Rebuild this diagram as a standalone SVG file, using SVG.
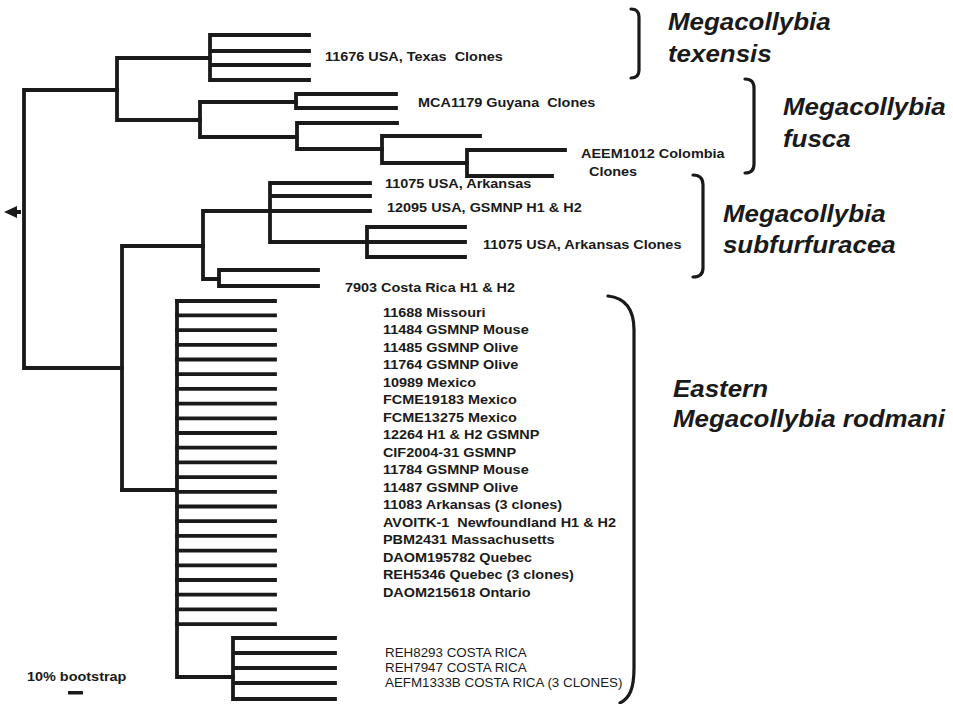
<svg xmlns="http://www.w3.org/2000/svg" width="953" height="704" viewBox="0 0 953 704">
<style>
.br{stroke:#1a1a1a;stroke-width:3.8;fill:none;stroke-linecap:square}
.bk{stroke:#1a1a1a;stroke-width:3.2;fill:none;stroke-linecap:round}
text{white-space:pre}
.lb{font-family:"Liberation Sans",Arial,sans-serif;font-weight:bold;font-size:13.5px;fill:#1a1a1a}
.sm{font-family:"Liberation Sans",Arial,sans-serif;font-weight:normal;font-size:12.5px;fill:#1a1a1a}
.sp{font-family:"Liberation Sans",Arial,sans-serif;font-weight:bold;font-style:italic;font-size:24px;fill:#1a1a1a}
</style>
<rect width="953" height="704" fill="#ffffff"/>
<g id="connectors">
<path class="br" d="M24,90V368M24,90H117M24,368H122"/>
<path class="br" d="M117,58V120M117,58H210M117,120H200"/>
<path class="br" d="M210,35V80M210,35H309M210,51H309M210,65H309M210,80H309"/>
<path class="br" d="M200,102V137M200,102H296M200,137H297"/>
<path class="br" d="M296,94V108M296,94H396M296,108H396"/>
<path class="br" d="M297,123V149M297,123H397M297,149H382"/>
<path class="br" d="M382,136V163M382,136H480M382,163H467"/>
<path class="br" d="M467,150V176M467,150H565M467,176H552"/>
<path class="br" d="M122,246V490M122,246H203"/>
<path class="br" d="M203,211V279M203,211H370M203,279H219"/>
<path class="br" d="M270,183V242M270,183H370M270,196H370M270,242H367"/>
<path class="br" d="M367,227V257M367,227H465M367,242H465M367,257H465"/>
<path class="br" d="M219,270V286M219,270H318M219,286H318"/>
<path class="br" d="M122,490H177M177,301V677M177,677H233"/>
<path class="br" d="M177,301H275M177,315.4H275M177,330.1H275M177,344.8H275M177,359.5H275M177,374.2H275M177,388.9H275M177,403.6H275M177,418.3H275M177,433H275M177,447.7H275M177,462.4H275M177,477.1H275M177,491.8H275M177,506.5H275M177,521.2H275M177,535.9H275M177,550.6H275M177,565.3H275M177,580H275M177,594.7H275M177,609.4H275M177,624.1H275"/>
<path class="br" d="M233,638V699M233,638H335M233,653H335M233,668H335M233,683H335M233,699H335"/>
<polygon points="4,212 17,206 17,210 21,210 21,214 17,214 17,218" fill="#1a1a1a"/>
<rect x="68" y="691" width="15" height="3.5" fill="#1a1a1a"/>
<path class="bk" d="M631,9Q639,9 639,17L639,70Q639,78 631,78"/>
<path class="bk" d="M745,79Q754,79 754,88L754,164Q754,173 745,173"/>
<path class="bk" d="M693,175Q703,175 703,185L703,268Q703,277 693,277"/>
<path class="bk" d="M608,296C626,298 634,310 634,330L634,668C634,688 630,698 620,703"/>
</g>
<g id="labels" transform="scale(1.07 1)">
<g id="texensis-leaf"><text class="lb" x="303.7" y="61">11676 USA, Texas  Clones</text></g>
<g id="fusca-leaves">
<text class="lb" x="390.7" y="107">MCA1179 Guyana  Clones</text>
<text class="lb" x="543" y="158">AEEM1012 Colombia</text>
<text class="lb" x="550.5" y="176">Clones</text>
</g>
<g id="subfurfuracea-leaves">
<text class="lb" x="359.8" y="188">11075 USA, Arkansas</text>
<text class="lb" x="361.7" y="212">12095 USA, GSMNP H1 &amp; H2</text>
<text class="lb" x="451.4" y="249">11075 USA, Arkansas Clones</text>
<text class="lb" x="322.4" y="292">7903 Costa Rica H1 &amp; H2</text>
</g>
<g id="rodmani-leaves">
<text class="lb" x="357.9" y="317">11688 Missouri</text>
<text class="lb" x="357.9" y="334.5">11484 GSMNP Mouse</text>
<text class="lb" x="357.9" y="352">11485 GSMNP Olive</text>
<text class="lb" x="357.9" y="369.5">11764 GSMNP Olive</text>
<text class="lb" x="357.9" y="387">10989 Mexico</text>
<text class="lb" x="357.9" y="404.5">FCME19183 Mexico</text>
<text class="lb" x="357.9" y="422">FCME13275 Mexico</text>
<text class="lb" x="357.9" y="439.5">12264 H1 &amp; H2 GSMNP</text>
<text class="lb" x="357.9" y="457">CIF2004-31 GSMNP</text>
<text class="lb" x="357.9" y="474.5">11784 GSMNP Mouse</text>
<text class="lb" x="357.9" y="492">11487 GSMNP Olive</text>
<text class="lb" x="357.9" y="509.5">11083 Arkansas (3 clones)</text>
<text class="lb" x="357.9" y="527">AVOITK-1  Newfoundland H1 &amp; H2</text>
<text class="lb" x="357.9" y="544.5">PBM2431 Massachusetts</text>
<text class="lb" x="357.9" y="562">DAOM195782 Quebec</text>
<text class="lb" x="357.9" y="579.5">REH5346 Quebec (3 clones)</text>
<text class="lb" x="357.9" y="597">DAOM215618 Ontario</text>
</g>
<g id="costarica-leaves">
<text class="sm" x="359.8" y="657">REH8293 COSTA RICA</text>
<text class="sm" x="359.8" y="672">REH7947 COSTA RICA</text>
<text class="sm" x="359.8" y="687">AEFM1333B COSTA RICA (3 CLONES)</text>
</g>
<g id="scale"><text class="lb" x="25.2" y="681">10% bootstrap</text></g>
</g>
<g id="species" transform="scale(1.08 1)">
<g id="sp-texensis"><text class="sp" x="618.5" y="30">Megacollybia</text><text class="sp" x="618.5" y="62">texensis</text></g>
<g id="sp-fusca"><text class="sp" x="725" y="115">Megacollybia</text><text class="sp" x="725" y="147">fusca</text></g>
<g id="sp-subfurfuracea"><text class="sp" x="669.4" y="222">Megacollybia</text><text class="sp" x="669.4" y="253">subfurfuracea</text></g>
<g id="sp-rodmani"><text class="sp" x="623.1" y="397">Eastern</text><text class="sp" x="623.1" y="427">Megacollybia rodmani</text></g>
</g>
</svg>
